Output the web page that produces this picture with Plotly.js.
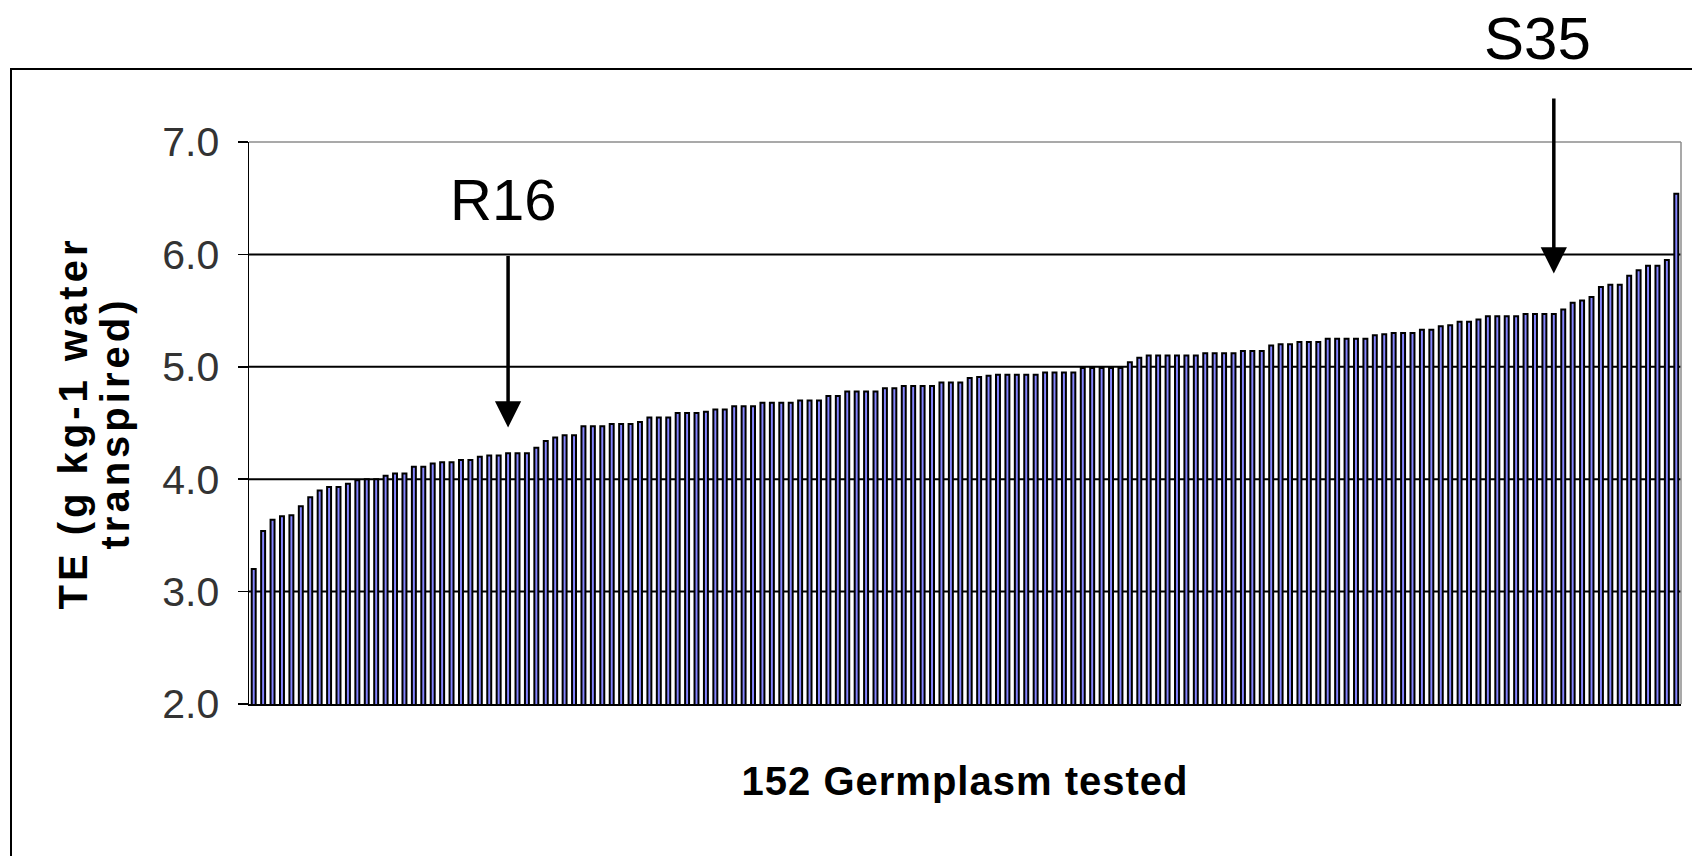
<!DOCTYPE html>
<html>
<head>
<meta charset="utf-8">
<script src="https://cdn.plot.ly/plotly-3.0.1.min.js"></script>
<style>
html,body{margin:0;padding:0;background:#fff;}
#chart{width:1692px;height:856px;}
#chart .ytitle{letter-spacing:4px;}
#chart .xtitle{letter-spacing:1px;}
</style>
</head>
<body>
<div id="chart"></div>
<script>
// Transpiration efficiency (g kg-1 water transpired), 152 germplasm sorted ascending
const teGroup1 = [3.20, 3.54, 3.64, 3.67, 3.68, 3.76, 3.84, 3.90, 3.93, 3.93, 3.96, 3.99, 4.00, 4.00, 4.03, 4.05, 4.05, 4.11, 4.11, 4.14, 4.15, 4.15, 4.17, 4.17, 4.20];
const teGroup2 = [4.21, 4.21, 4.23, 4.23, 4.23, 4.28, 4.34, 4.37, 4.39, 4.39, 4.47, 4.47, 4.47, 4.49, 4.49, 4.49, 4.51, 4.55, 4.55, 4.55, 4.59, 4.59, 4.59, 4.60, 4.62, 4.62];
const teGroup3 = [4.65, 4.65, 4.65, 4.68, 4.68, 4.68, 4.68, 4.70, 4.70, 4.70, 4.74, 4.74, 4.78, 4.78, 4.78, 4.78, 4.81, 4.81, 4.83, 4.83, 4.83, 4.83, 4.86, 4.86, 4.86, 4.90];
const teGroup4 = [4.91, 4.92, 4.93, 4.93, 4.93, 4.93, 4.93, 4.95, 4.95, 4.95, 4.95, 4.99, 4.99, 4.99, 4.99, 4.99, 5.04, 5.08, 5.10, 5.10, 5.10, 5.10, 5.10, 5.10, 5.12];
const teGroup5 = [5.12, 5.12, 5.12, 5.14, 5.14, 5.14, 5.19, 5.20, 5.20, 5.22, 5.22, 5.22, 5.25, 5.25, 5.25, 5.25, 5.25, 5.28, 5.29, 5.30, 5.30, 5.30, 5.33, 5.33, 5.36];
const teGroup6 = [5.37, 5.40, 5.40, 5.42, 5.45, 5.45, 5.45, 5.45, 5.47, 5.47, 5.47, 5.47, 5.51, 5.57, 5.59, 5.62, 5.71, 5.73, 5.73, 5.81, 5.86, 5.90, 5.90, 5.95, 6.54];

const teValues = [].concat(teGroup1, teGroup2, teGroup3, teGroup4, teGroup5, teGroup6);
const germplasmIndex = teValues.map((_, i) => i + 1);

const yTickValues = [2, 3, 4, 5, 6, 7];
const yTickLabels = ['2.0', '3.0', '4.0', '5.0', '6.0', '7.0'];
const gridValues = [3, 4, 5, 6];
const yTitleLines = ['TE (g kg-1 water', 'transpired)'];

// Highlighted germplasm (position in the sorted list)
const r16Index = 28;
const s35Index = 139;

const titleFont = 'Liberation Sans, Arial, sans-serif';

const trace = {
  type: 'bar',
  x: germplasmIndex,
  y: teValues,
  marker: { color: '#8585ff', line: { color: '#000000', width: 2 } },
  hoverinfo: 'x+y'
};

const shapes = gridValues.map(v => ({
  type: 'line', xref: 'paper', yref: 'y', x0: 0, x1: 1, y0: v, y1: v,
  line: { color: '#000000', width: 2 }, layer: 'below'
}));
// plot area border (top and right, grey)
shapes.push({ type: 'line', xref: 'paper', yref: 'paper', x0: 0, x1: 1, y0: 1, y1: 1, line: { color: '#8c8c8c', width: 1.5 }, layer: 'below' });
shapes.push({ type: 'line', xref: 'paper', yref: 'paper', x0: 1, x1: 1, y0: 0, y1: 1, line: { color: '#8c8c8c', width: 1.5 }, layer: 'below' });
// outer chart frame
shapes.push({ type: 'rect', xref: 'paper', yref: 'paper', x0: -0.1662, x1: 1.2, y0: -0.5, y1: 1.1299, line: { color: '#000000', width: 2 }, layer: 'below' });

const layout = {
  width: 1692, height: 856,
  margin: { l: 249, r: 11, t: 142, b: 152 },
  paper_bgcolor: '#ffffff', plot_bgcolor: '#ffffff',
  showlegend: false,
  bargap: 0.58,
  xaxis: {
    range: [0.5, teValues.length + 0.5],
    showticklabels: false, ticks: '', showgrid: false, zeroline: false,
    showline: true, linecolor: '#000000', linewidth: 1.5,
    title: { text: '152 Germplasm tested', font: { family: titleFont, size: 40, color: '#000', weight: 'bold' }, standoff: 62 }
  },
  yaxis: {
    range: [2, 7],
    tickvals: yTickValues, ticktext: yTickLabels,
    ticks: 'outside', ticklen: 10, tickwidth: 1.5, tickcolor: '#000000',
    ticklabelstandoff: 10,
    tickfont: { family: titleFont, size: 41, color: '#333333' },
    showgrid: false, zeroline: false,
    showline: true, linecolor: '#000000', linewidth: 1.5,
    title: {
      text: yTitleLines.map(t => '<span style="font-size:40px">' + t + '</span>').join('<br>'),
      font: { family: titleFont, size: 33, color: '#000', weight: 'bold' }, standoff: 22
    }
  },
  shapes: shapes,
  annotations: [
    { xref: 'x', yref: 'y', x: r16Index, y: 4.46, axref: 'x', ayref: 'y', ax: r16Index, ay: 6.0,
      text: '', showarrow: true, arrowhead: 2, arrowsize: 1.5, arrowwidth: 3.5, arrowcolor: '#000', standoff: 0, startstandoff: 0 },
    { xref: 'x', yref: 'y', x: r16Index - 0.5, y: 6.49, text: 'R16', showarrow: false,
      xanchor: 'center', yanchor: 'middle', font: { family: titleFont, size: 58, color: '#000' } },
    { xref: 'x', yref: 'y', x: s35Index, y: 5.83, axref: 'x', ayref: 'y', ax: s35Index, ay: 7.4,
      text: '', showarrow: true, arrowhead: 2, arrowsize: 1.5, arrowwidth: 3.5, arrowcolor: '#000', standoff: 0, startstandoff: 0 },
    { xref: 'paper', yref: 'paper', x: 0.900, y: 1.184, text: 'S35', showarrow: false,
      xanchor: 'center', yanchor: 'middle', font: { family: titleFont, size: 60, color: '#000' } }
  ]
};

Plotly.newPlot('chart', [trace], layout, { displayModeBar: false, staticPlot: true });
</script>
</body>
</html>
